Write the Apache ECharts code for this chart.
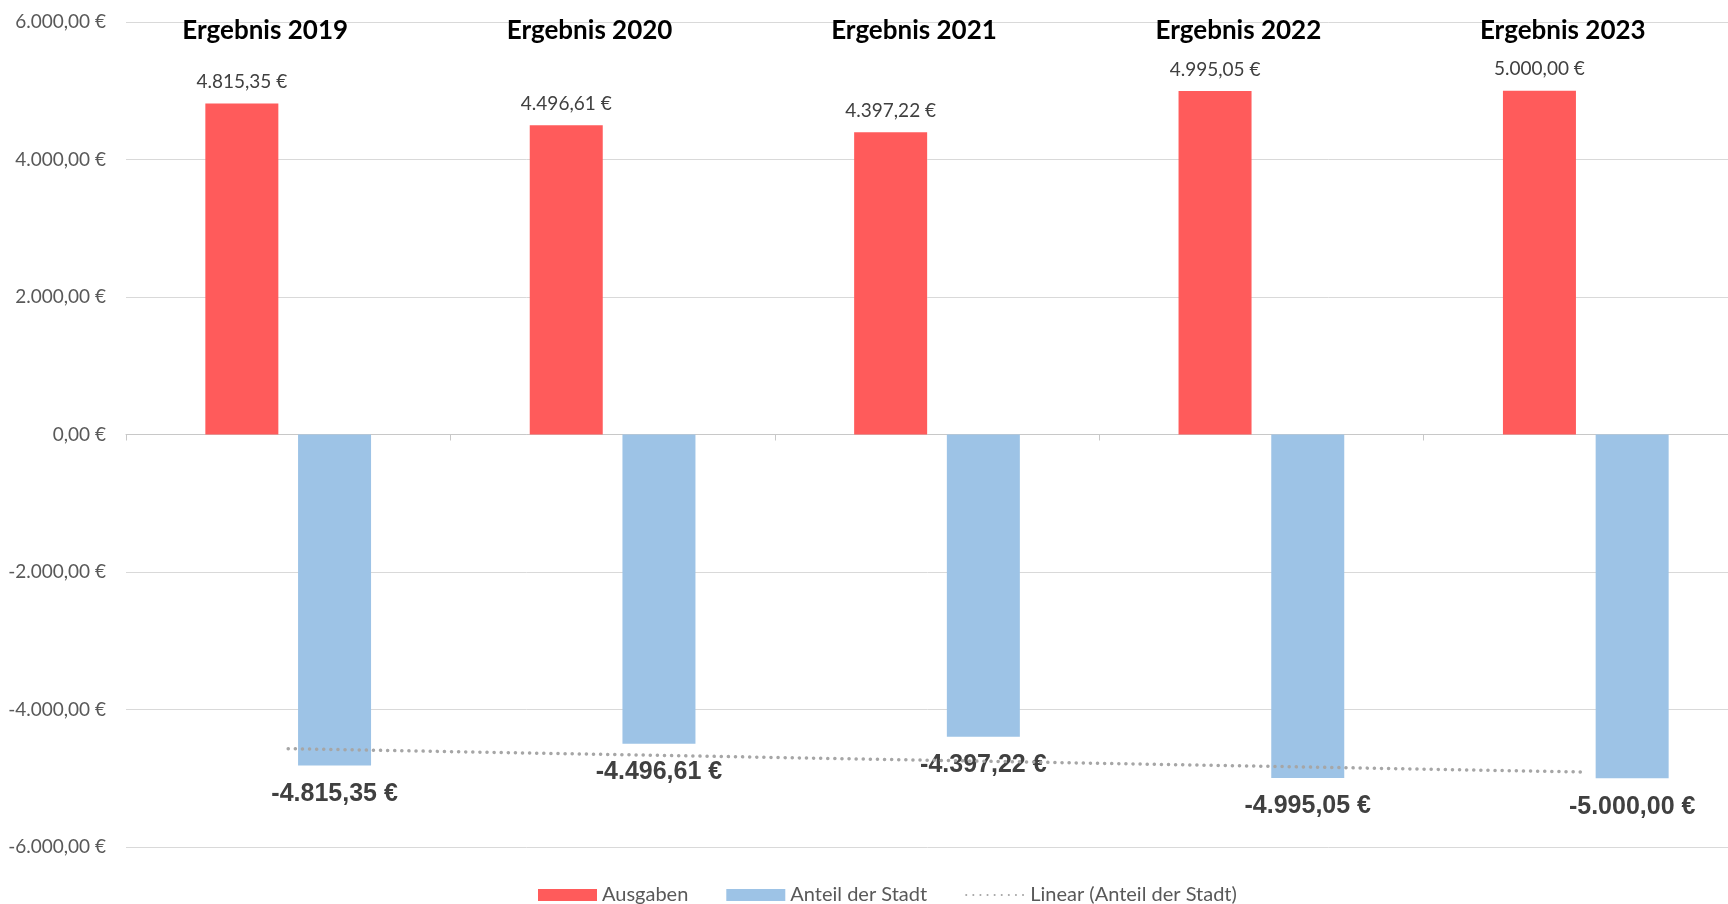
<!DOCTYPE html>
<html>
<head>
<meta charset="utf-8">
<script src="https://cdn.jsdelivr.net/npm/echarts@6/dist/echarts.min.js"></script>
<style>
html,body{margin:0;padding:0;background:#fff}
#main{width:1728px;height:904px}
</style>
</head>
<body>
<div id="main"></div>
<script>
var categories = ['Ergebnis 2019', 'Ergebnis 2020', 'Ergebnis 2021', 'Ergebnis 2022', 'Ergebnis 2023'];
var ausgaben = [4815.35, 4496.61, 4397.22, 4995.05, 5000.00];
var anteilStadt = [-4815.35, -4496.61, -4397.22, -4995.05, -5000.00];
// trend line
var linearAnteil = [-4570, -4655, -4740, -4825, -4910];

function euro(v) {
    var neg = v < 0;
    var parts = Math.abs(v).toFixed(2).split('.');
    var whole = parts[0].replace(/\B(?=(\d{3})+(?!\d))/g, '.');
    return (neg ? '-' : '') + whole + ',' + parts[1] + ' €';
}

window.onload = function () {
    var chart = echarts.init(document.getElementById('main'));
    chart.setOption({
        animation: false,
        textStyle: { fontFamily: 'Lato' },
        grid: {
            left: 126,
            right: -20,
            top: 22,
            bottom: 57,
            outerBoundsMode: 'none'
        },
        legend: {
            left: 533,
            top: 880,
            itemWidth: 59,
            itemHeight: 12,
            itemGap: 38,
            textStyle: { color: '#595959', fontSize: 20, fontFamily: 'Lato' },
            data: [
                { name: 'Ausgaben', icon: 'rect' },
                { name: 'Anteil der Stadt', icon: 'rect' },
                { name: 'Linear (Anteil der Stadt)' }
            ]
        },
        xAxis: [{
            type: 'category',
            data: categories,
            position: 'bottom',
            axisLine: { onZero: true, lineStyle: { color: '#c8c8c8', width: 1 } },
            axisTick: { show: true, length: 6, lineStyle: { color: '#c8c8c8' } },
            axisLabel: { show: false },
            splitLine: { show: false }
        }, {
            type: 'category',
            data: categories,
            position: 'top',
            axisLine: { show: false },
            axisTick: { show: false },
            axisLabel: {
                inside: true,
                margin: 9,
                verticalAlign: 'middle',
                color: '#000',
                fontSize: 26,
                fontWeight: 'bold',
                fontFamily: 'Lato',
                padding: [0, 46, 0, 0]
            }
        }],
        yAxis: {
            type: 'value',
            min: -6000,
            max: 6000,
            interval: 2000,
            axisLine: { show: false },
            axisTick: { show: false },
            axisLabel: {
                formatter: euro,
                color: '#595959',
                fontSize: 19,
                fontFamily: 'Lato',
                margin: 20
            },
            splitLine: { lineStyle: { color: '#d9d9d9', width: 1 } }
        },
        series: [{
            name: 'Ausgaben',
            type: 'bar',
            data: ausgaben,
            barWidth: 73,
            barGap: '27%',
            itemStyle: { color: '#FF5B5B' },
            label: {
                show: true,
                position: 'outside',
                distance: 12,
                formatter: function (p) { return euro(p.value); },
                color: '#404040',
                fontSize: 19,
                fontFamily: 'Lato'
            }
        }, {
            name: 'Anteil der Stadt',
            type: 'bar',
            data: anteilStadt,
            barWidth: 73,
            itemStyle: { color: '#9DC3E6' },
            label: {
                show: true,
                position: 'outside',
                distance: 16,
                formatter: function (p) { return euro(p.value); },
                color: '#404040',
                fontSize: 25,
                fontWeight: 'bold',
                fontFamily: 'Liberation Sans'
            }
        }, {
            name: 'Linear (Anteil der Stadt)',
            type: 'line',
            data: linearAnteil,
            symbol: 'none',
            z: 5,
            itemStyle: { color: 'rgba(0,0,0,0)' },
            lineStyle: { color: '#A6A6A6', width: 3.5, type: [0.1, 7], cap: 'round' }
        }]
    });
};
</script>
</body>
</html>
